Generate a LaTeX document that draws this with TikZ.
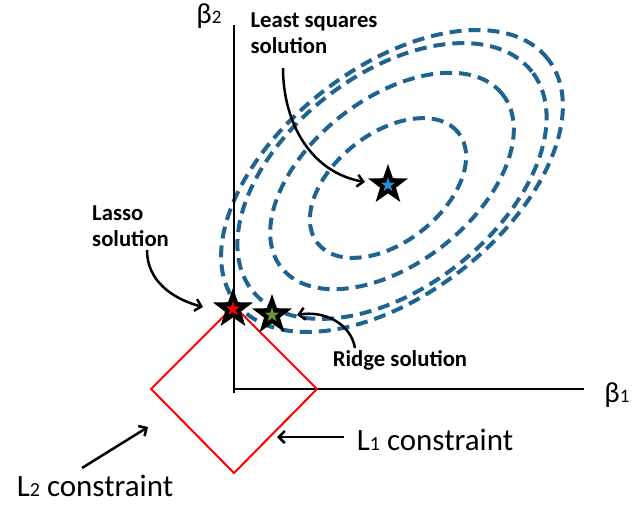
\documentclass[tikz,border=0pt]{standalone}
\usepackage{fontspec}
\setmainfont{Carlito}
\usetikzlibrary{shapes.geometric,arrows.meta}
\definecolor{contourblue}{RGB}{31,99,145}
\definecolor{ridgegreen}{RGB}{110,150,55}
\definecolor{lsblue}{RGB}{40,140,210}
\newcommand{\lowidx}[2][20]{{\fontsize{#1}{#1}\selectfont #2}}
\begin{document}
\begin{tikzpicture}[x=1pt, y=1pt,
  contour/.style={draw=contourblue, line width=4pt, dash pattern=on 12pt off 7pt},
  pointer/.style={line width=2.5pt, -{Straight Barb[length=6pt,width=12pt]}},
  sol/.style={font=\fontsize{22.7}{26}\selectfont\bfseries, align=left, inner sep=0pt},
  cons/.style={font=\fontsize{31}{32}\selectfont, inner sep=0pt},
  axlbl/.style={font=\fontsize{29}{30}\selectfont, inner sep=0pt},
  bigstar/.style={star, star points=5, star point ratio=2.5, fill=black, minimum size=42pt, inner sep=0pt},
  smallstar/.style={star, star points=5, star point ratio=2.5, minimum size=15pt, inner sep=0pt}]
  \useasboundingbox (-234,-115) rectangle (398,389);
  % contours of the squared error
  \draw[contour, rotate around={38:(154,201)}] (154,201) ellipse [x radius=89.5, y radius=54.5];
  \draw[contour, rotate around={38:(158,208)}] (158,208) ellipse [x radius=140.5, y radius=82.5];
  \draw[contour, rotate around={38:(158,208)}] (158,208) ellipse [x radius=177.6, y radius=106.6];
  \draw[contour, rotate around={38:(158,208)}] (158,208) ellipse [x radius=198, y radius=113];
  % axes
  \coordinate (O) at (0,0);
  \draw[line width=2pt] (0,-4) -- (0,364);
  \draw[line width=2pt] (O) -- (350,0);
  \node[axlbl] (b2) at (-25,373) {β\lowidx[19]{2}};
  \node[axlbl] (b1) at (383,-6) {β\lowidx[19]{1}};
  % constraint region
  \coordinate (dl) at (-83,0); \coordinate (dt) at (0,83);
  \coordinate (dr) at (83,0); \coordinate (db) at (0,-84);
  \draw[red, line width=2pt] (dl) -- (dt) -- (dr) -- (db) -- cycle;
  % solutions
  \node[bigstar] (lasso) at (-1,80) {};
  \node[smallstar, fill=red] (lassoc) at (lasso) {};
  \node[bigstar] (ridge) at (38,74) {};
  \node[smallstar, fill=ridgegreen] (ridgec) at (ridge) {};
  \node[bigstar] (ls) at (154,204) {};
  \node[smallstar, fill=lsblue] (lsc) at (ls) {};
  % labels
  \node[sol] (lslbl) at (80,356) {Least squares\\solution};
  \node[sol, anchor=west] (lassolbl) at (-142,163) {Lasso\\solution};
  \node[sol] (ridgelbl) at (166,29) {Ridge solution};
  \node[cons] (l1lbl) at (201,-51) {L\lowidx{1} constraint};
  \node[cons] (l2lbl) at (-139,-97) {L\lowidx{2} constraint};
  % pointers
  \coordinate (lsfrom) at (49,321); \coordinate (lsto) at (131,207);
  \coordinate (lassofrom) at (-87,139); \coordinate (lassoto) at (-31,82);
  \coordinate (ridgefrom) at (121,41); \coordinate (ridgeto) at (63,74);
  \coordinate (l1from) at (110,-48); \coordinate (l1to) at (43,-48);
  \coordinate (l2from) at (-152,-79); \coordinate (l2to) at (-86,-38);
  \draw[pointer] (lsfrom) to[out=-90, in=170] (lsto);
  \draw[pointer] (lassofrom) to[out=-90, in=165] (lassoto);
  \draw[pointer] (ridgefrom) to[out=100, in=10] (ridgeto);
  \draw[pointer] (l1from) -- (l1to);
  \draw[pointer] (l2from) -- (l2to);
\end{tikzpicture}
\end{document}
